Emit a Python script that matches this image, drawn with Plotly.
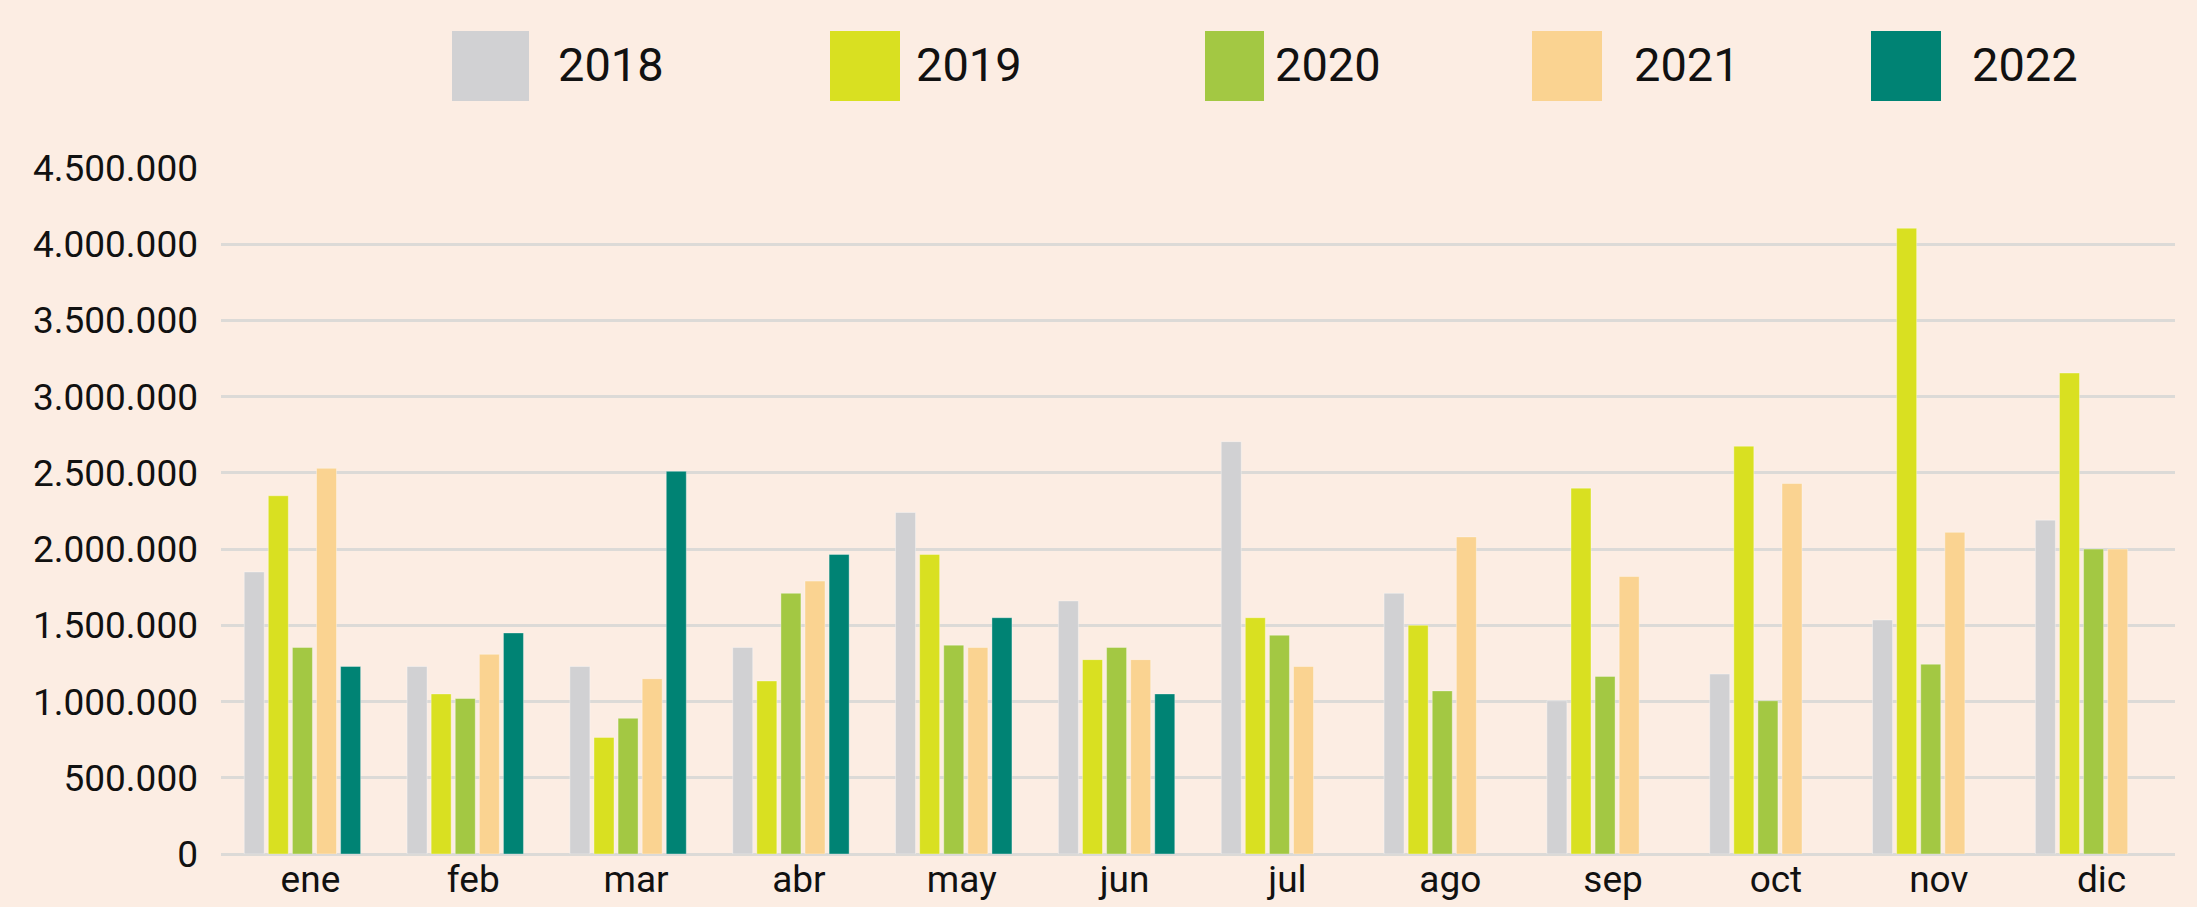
import plotly.graph_objects as go

months = ["ene", "feb", "mar", "abr", "may", "jun", "jul", "ago", "sep", "oct", "nov", "dic"]
years = ["2018", "2019", "2020", "2021", "2022"]

v2018 = [1850000, 1230000, 1230000, 1355000, 2240000, 1660000, 2705000, 1710000, 1005000, 1180000, 1535000, 2190000]
v2019 = [2350000, 1050000, 765000, 1135000, 1965000, 1275000, 1550000, 1500000, 2400000, 2675000, 4105000, 3155000]
v2020 = [1355000, 1020000, 890000, 1710000, 1370000, 1355000, 1435000, 1070000, 1165000, 1005000, 1245000, 2000000]
v2021 = [2530000, 1310000, 1150000, 1790000, 1355000, 1275000, 1230000, 2080000, 1820000, 2430000, 2110000, 2000000]
v2022 = [1230000, 1450000, 2510000, 1965000, 1550000, 1050000, None, None, None, None, None, None]

series = [v2018, v2019, v2020, v2021, v2022]
colors = ["#d1d1d3", "#d9e021", "#a3c843", "#fad391", "#008374"]

y_ticks = [0, 500000, 1000000, 1500000, 2000000, 2500000, 3000000, 3500000, 4000000, 4500000]

W, H = 2197, 907
ML, MR, MT, MB = 221, 22, 168, 53
PW, PH = W - ML - MR, H - MT - MB

fig = go.Figure()
for name, vals, col in zip(years, series, colors):
    fig.add_trace(go.Bar(
        name=name, x=months, y=vals,
        marker=dict(color=col, line=dict(color="rgba(255,255,255,0.35)", width=1)),
        showlegend=False,
    ))

def px_x(p):
    return (p - ML) / PW

def px_y(p):
    return (H - MB - p) / PH

# custom legend (large squares)
legend_sq = [(452, 529), (830, 900), (1205, 1264), (1532, 1602), (1871, 1941)]
legend_tx = [556, 914, 1273, 1632, 1970]
shapes = []
annotations = []
for (x0, x1), tx, col, name in zip(legend_sq, legend_tx, colors, years):
    shapes.append(dict(type="rect", xref="paper", yref="paper",
                       x0=px_x(x0), x1=px_x(x1), y0=px_y(101), y1=px_y(31),
                       fillcolor=col, line=dict(width=0), layer="above"))
    annotations.append(dict(xref="paper", yref="paper", x=px_x(tx), y=px_y(64),
                            xanchor="left", yanchor="middle", text=name, showarrow=False,
                            font=dict(family="Roboto", size=47, color="#111111")))

fig.update_layout(
    width=W, height=H,
    margin=dict(l=ML, r=MR, t=MT, b=MB, pad=0, autoexpand=False),
    paper_bgcolor="#fcede3",
    plot_bgcolor="#fcede3",
    barmode="group",
    bargap=0.26,
    bargroupgap=0.17,
    separators=",.",
    font=dict(family="Roboto", size=37, color="#111111"),
    shapes=shapes,
    annotations=annotations,
    xaxis=dict(showgrid=False, showline=False, zeroline=False, ticks="", automargin=False,
               tickfont=dict(size=37), ticklabelshift=8, ticklabelstandoff=0),
    yaxis=dict(range=[0, 4500000], tickvals=y_ticks, tickformat=",d", automargin=False,
               showgrid=True, gridcolor="#dcdad7", gridwidth=2.5,
               zeroline=True, zerolinecolor="#dcdad7", zerolinewidth=2.5,
               showline=False, ticks="", ticklabelstandoff=22,
               tickfont=dict(size=37)),
)

fig.write_html(
    "out.html",
    config={"displayModeBar": False},
    post_script="document.body.style.margin='0';document.body.style.overflow='hidden';"
                "document.documentElement.style.overflow='hidden';"
                "document.body.style.background='#fcede3';",
)
